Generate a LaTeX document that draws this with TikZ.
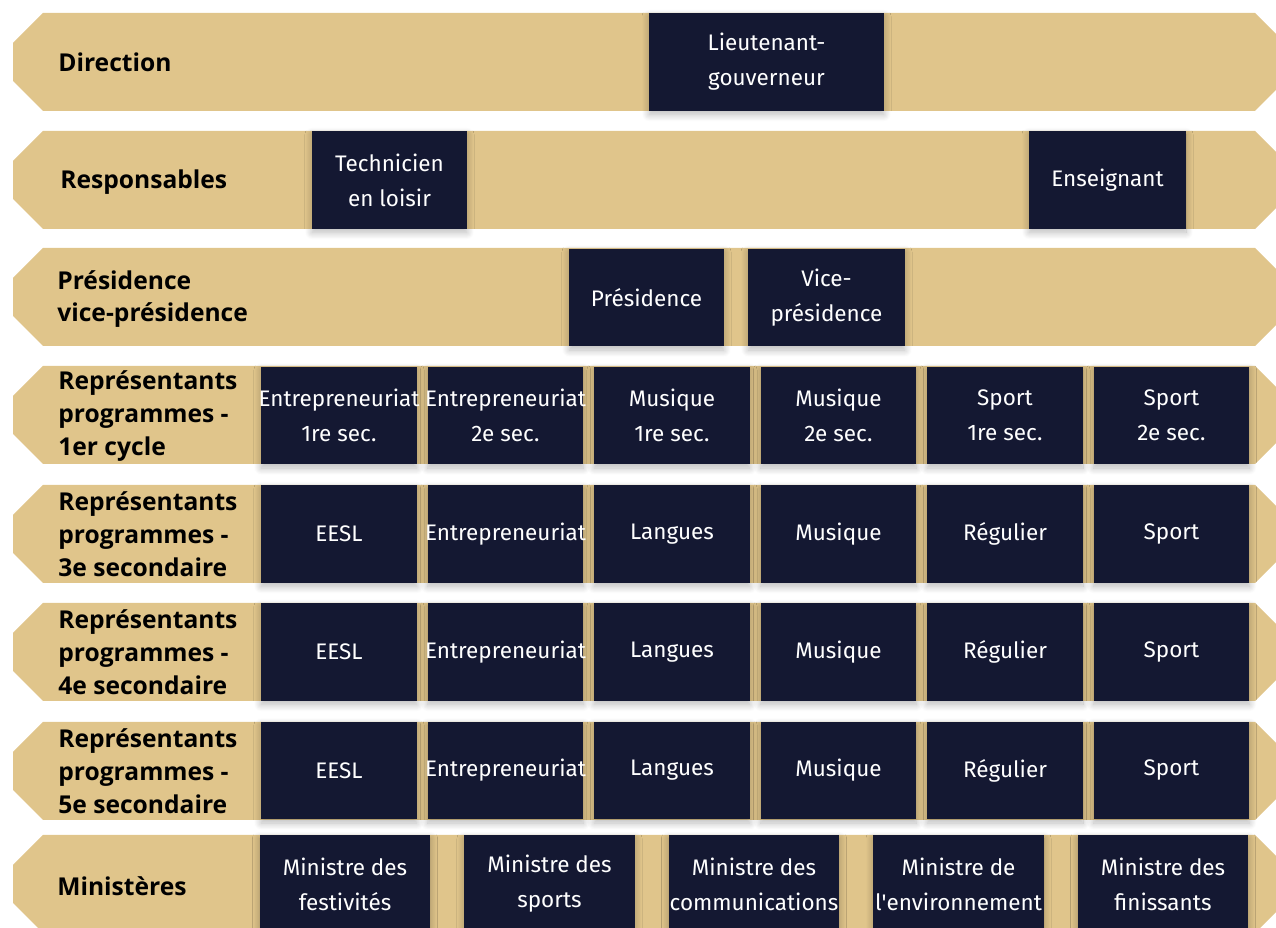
\documentclass[tikz,border=0pt]{standalone}
\usepackage{fontspec}
\setmainfont{Fira Sans}
\newfontfamily\labelfont{Open Sans}
\usetikzlibrary{shadows.blur}
\definecolor{bandtan}{HTML}{E0C58B}
\definecolor{navy}{HTML}{141832}
\newcommand{\serre}[1]{\makebox[2.9cm]{#1}}
\tikzset{
  band/.style={fill=bandtan},
  rowlabel/.style={anchor=west, align=left, inner sep=0pt, text=black,
    font=\labelfont\bfseries\fontsize{14}{18.7}\selectfont},
  poste/.style={fill=navy, text=white, align=center, inner sep=0pt,
    minimum width=3.12cm, minimum height=1.96cm,
    font=\fontsize{12.8}{19.8}\selectfont,
    blur shadow={shadow xshift=0pt, shadow yshift=-2pt,
      shadow blur radius=4pt, shadow blur steps=16, shadow opacity=28}},
  ministre/.style={poste, minimum width=3.42cm}
}
\begin{document}
\begin{tikzpicture}[x=0.02cm, y=-0.02cm]
\useasboundingbox (0,0) rectangle (1276,928);
\clip (0,0) rectangle (1276,928);

% Bands
\foreach \t in {13,131,248,366,485,603,722,835}
  \fill[band] (13,\t+30) -- (43,\t) -- (1255,\t) -- (1285,\t+30) -- (1285,\t+68)
    -- (1255,\t+98) -- (43,\t+98) -- (13,\t+68) -- cycle;

% Row labels
\node[rowlabel] (lbl1) at (58,62) {Direction};
\node[rowlabel] (lbl2) at (60,182) {Responsables};
\node[rowlabel] (lbl3) at (57,299) {Présidence\\vice-présidence};
\node[rowlabel] (lbl4) at (58,416) {Représentants\\programmes -\\1er cycle};
\node[rowlabel] (lbl5) at (58,534) {Représentants\\programmes -\\3e secondaire};
\node[rowlabel] (lbl6) at (58,652) {Représentants\\programmes -\\4e secondaire};
\node[rowlabel] (lbl7) at (58,771) {Représentants\\programmes -\\5e secondaire};
\node[rowlabel] (lbl8) at (57,886) {Ministères};

% Direction, responsables, presidence
\node[poste, minimum width=4.7cm] (lieut) at (766.5,62) {Lieutenant-\\gouverneur};
\node[poste, minimum width=3.1cm] (tech) at (389.5,180) {Technicien\\en loisir};
\node[poste, minimum width=3.14cm] (ens) at (1107.5,180) {Enseignant};
\node[poste, minimum width=3.1cm] (pres) at (646.5,297.5) {Présidence};
\node[poste, minimum width=3.14cm] (vpres) at (826.5,297.5) {Vice-\\présidence};

% Programmes 1er cycle
\foreach \x/\txt [count=\c] in {339/{\serre{Entrepreneuriat}\\1re sec.}, 505.5/{\serre{Entrepreneuriat}\\2e sec.},
    672/{Musique\\1re sec.}, 838.5/{Musique\\2e sec.}, 1005/{Sport\\1re sec.}, 1171.5/{Sport\\2e sec.}}
  \node[poste] (r4-\c) at (\x,415.5) {\txt};

% Programmes 3e a 5e secondaire
\foreach \y/\r in {534/5, 652/6, 770.5/7}
  \foreach \x/\txt [count=\c] in {339/EESL, 505.5/\serre{Entrepreneuriat}, 672/Langues,
      838.5/Musique, 1005/Régulier, 1171.5/Sport}
    \node[poste] (r\r-\c) at (\x,\y) {\txt};

% Ministeres
\foreach \x/\txt [count=\c] in {345/{Ministre des\\festivités}, 549.5/{Ministre des\\sports},
    754/{Ministre des\\\serre{communications}}, 958.5/{Ministre de\\\serre{l\textquotesingle environnement}},
    1163/{Ministre des\\finissants}}
  \node[ministre] (min-\c) at (\x,884) {\txt};
\end{tikzpicture}
\end{document}
